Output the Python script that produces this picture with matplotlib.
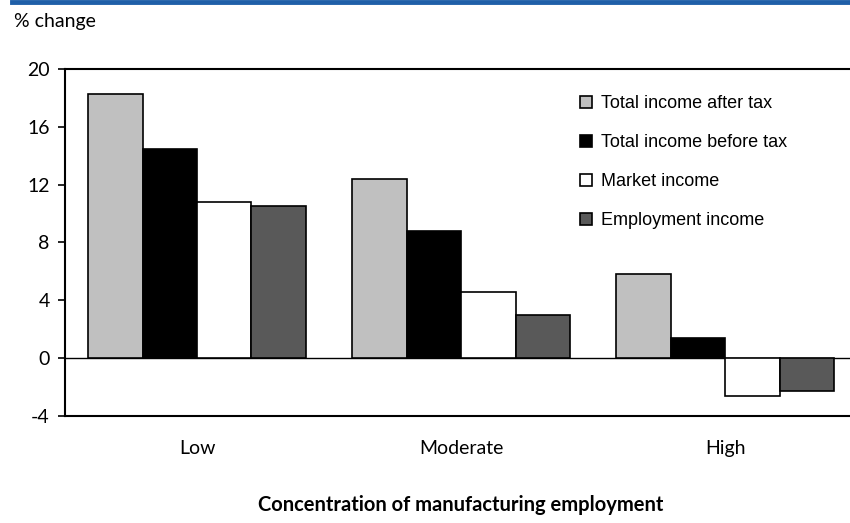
import numpy as np
import matplotlib.pyplot as plt
from matplotlib.lines import Line2D

# ----------------------------------------------------
# Data
# ----------------------------------------------------

categories = ["Low", "Moderate", "High"]

series_names = [
    "Total income after tax",
    "Total income before tax",
    "Market income",
    "Employment income",
]

after_tax = [18.3, 12.4, 5.8]
before_tax = [14.5, 8.8, 1.4]
market = [10.8, 4.6, -2.6]
employment = [10.5, 3.0, -2.3]

y_ticks = [-4, 0, 4, 8, 12, 16, 20]

colors = ["#c0c0c0", "#000000", "#ffffff", "#595959"]

# ----------------------------------------------------
# Figure
# ----------------------------------------------------

fig = plt.figure(figsize=(8.5, 5.23), dpi=100)
ax = fig.add_axes([0.0765, 0.2046, 0.932, 0.6635])

x = np.arange(len(categories))
w = 0.206
series = [after_tax, before_tax, market, employment]

for i, (vals, name, c) in enumerate(zip(series, series_names, colors)):
    ax.bar(x + (i - 1.5) * w, vals, width=w, color=c,
           edgecolor="black", linewidth=1.2, label=name, zorder=3)

ax.axhline(0, color="black", linewidth=1.0, zorder=2)

ax.set_xlim(-0.5, 2.5)
ax.set_ylim(-4, 20)
ax.set_yticks(y_ticks)
ax.set_yticklabels([str(t) for t in y_ticks], fontsize=14, family="Lato")
ax.set_xticks(x)
ax.set_xticklabels(categories, fontsize=14, family="Lato")
ax.tick_params(axis="x", length=0, pad=17)
ax.tick_params(axis="y", length=5, width=1.2, direction="out", pad=6)

for side in ["left", "bottom", "top"]:
    ax.spines[side].set_linewidth(1.5)
ax.spines["right"].set_visible(False)

fig.text(461 / 850, 1 - 505 / 523,
         "Concentration of manufacturing employment",
         fontsize=14.5, fontweight="bold", family="Lato",
         ha="center", va="center")

fig.text(0.016, 1 - 22 / 523, "% change", fontsize=14, family="Lato",
         va="center", ha="left")

# legend
handles = [Line2D([], [], marker="s", linestyle="none", markersize=9,
                  markerfacecolor=c, markeredgecolor="black",
                  markeredgewidth=1.2) for c in colors]
ax.legend(handles, series_names, loc="upper left",
          bbox_to_anchor=(0.639, 0.945), frameon=False,
          prop={"family": "Liberation Sans", "size": 13},
          handlelength=0.8, handletextpad=0.45, labelspacing=1.22,
          borderaxespad=0)

# blue rule at the top
fig.add_artist(Line2D([12 / 850, 1.0], [0.997, 0.997],
                      color="#1f5fa8", linewidth=3.5,
                      transform=fig.transFigure))

plt.savefig("out.png", dpi=100)
plt.close()
